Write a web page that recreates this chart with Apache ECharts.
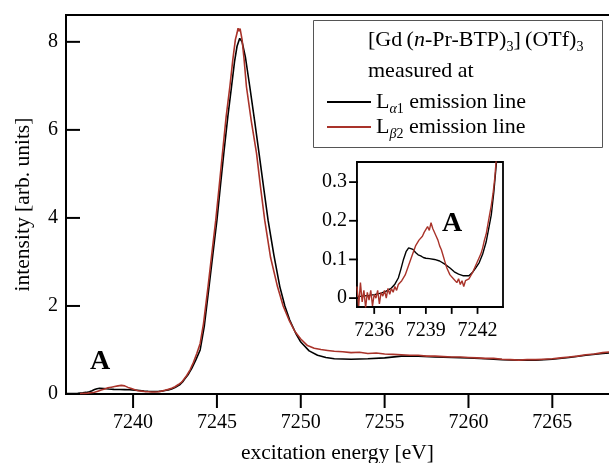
<!DOCTYPE html>
<html>
<head>
<meta charset="utf-8">
<script src="https://cdn.jsdelivr.net/npm/echarts@6/dist/echarts.min.js"></script>
<style>
html, body { margin: 0; padding: 0; background: #fff; }
#chart { width: 609px; height: 463px; }
</style>
</head>
<body>
<div id="chart"></div>
<script>
const blackEnergy = [7235.0, 7235.3, 7235.7, 7236.0, 7236.4, 7236.7, 7237.0, 7237.2, 7237.4, 7237.55,
	7237.7, 7237.85, 7238.0, 7238.1, 7238.25, 7238.4, 7238.55, 7238.7, 7238.85, 7239.0,
	7239.2, 7239.5, 7239.8, 7240.1, 7240.4, 7240.65, 7240.9, 7241.15, 7241.5, 7241.7,
	7241.9, 7242.1, 7242.3, 7242.5, 7242.65, 7242.8, 7242.95, 7243.1, 7243.3, 7243.5,
	7243.75, 7244.0, 7244.25, 7244.53, 7244.75, 7245.0, 7245.2, 7245.41, 7245.65, 7245.87,
	7246.05, 7246.2, 7246.36, 7246.5, 7246.7, 7246.96, 7247.25, 7247.51, 7247.8, 7248.05,
	7248.4, 7248.75, 7249.05, 7249.34, 7249.7, 7250.0, 7250.5, 7251.0, 7251.5, 7252.0,
	7253.0, 7254.0, 7255.0, 7256.0, 7257.0, 7258.0, 7259.0, 7260.0, 7261.0, 7262.0,
	7263.0, 7264.0, 7265.0, 7266.0, 7267.0, 7268.0, 7268.6]
const blackIntensity = [0.004, 0.005, 0.007, 0.009, 0.013, 0.018, 0.026, 0.036, 0.052, 0.075,
	0.1, 0.12, 0.13, 0.132, 0.126, 0.118, 0.112, 0.109, 0.105, 0.103,
	0.102, 0.1, 0.096, 0.088, 0.078, 0.068, 0.062, 0.058, 0.058, 0.066,
	0.078, 0.092, 0.114, 0.145, 0.18, 0.215, 0.275, 0.35, 0.45, 0.58,
	0.78, 1.0, 1.55, 2.44, 3.15, 3.95, 4.7, 5.47, 6.3, 6.98,
	7.55, 7.9, 8.08, 8.0, 7.65, 6.98, 6.2, 5.47, 4.65, 3.95,
	3.15, 2.44, 2.0, 1.68, 1.38, 1.18, 0.98, 0.88, 0.83, 0.8,
	0.79, 0.8, 0.82, 0.86, 0.86, 0.84, 0.83, 0.82, 0.8, 0.78,
	0.77, 0.77, 0.79, 0.83, 0.88, 0.92, 0.94]

// L-beta2 curve (red), noisy pre-edge
const redEnergy = [7235.0, 7235.1, 7235.2, 7235.3, 7235.4, 7235.5, 7235.6, 7235.7, 7235.8, 7235.9,
	7236.0, 7236.1, 7236.2, 7236.3, 7236.4, 7236.5, 7236.6, 7236.7, 7236.8, 7236.9,
	7237.0, 7237.1, 7237.2, 7237.3, 7237.4, 7237.5, 7237.6, 7237.7, 7237.8, 7237.9,
	7238.0, 7238.1, 7238.2, 7238.3, 7238.4, 7238.5, 7238.6, 7238.7, 7238.8, 7238.9,
	7239.0, 7239.1, 7239.2, 7239.3, 7239.4, 7239.5, 7239.6, 7239.7, 7239.8, 7239.9,
	7240.0, 7240.1, 7240.2, 7240.3, 7240.4, 7240.5, 7240.6, 7240.7, 7240.8, 7240.9,
	7241.0, 7241.1, 7241.2, 7241.3, 7241.4, 7241.5, 7241.6, 7241.7, 7241.8, 7241.9,
	7242.0, 7242.1, 7242.2, 7242.3, 7242.4, 7242.5, 7242.6, 7242.7, 7242.8, 7242.9,
	7243.0, 7243.2, 7243.4, 7243.6, 7243.8, 7244.0, 7244.2, 7244.47, 7244.7, 7244.93,
	7245.13, 7245.33, 7245.55, 7245.77, 7245.95, 7246.1, 7246.2, 7246.26, 7246.32, 7246.38,
	7246.5, 7246.62, 7246.76, 7247.05, 7247.36, 7247.6, 7247.85, 7248.2, 7248.61, 7248.95,
	7249.3, 7249.65, 7250.0, 7250.4, 7250.8, 7251.2, 7251.6, 7252.0, 7252.5, 7253.0,
	7253.5, 7254.0, 7254.5, 7255.0, 7255.5, 7256.0, 7256.5, 7257.0, 7257.5, 7258.0,
	7258.5, 7259.0, 7259.5, 7260.0, 7260.5, 7261.0, 7261.5, 7262.0, 7262.5, 7263.0,
	7263.5, 7264.0, 7264.5, 7265.0, 7265.5, 7266.0, 7266.5, 7267.0, 7267.5, 7268.0, 7268.6]
const redIntensity = [0.03, -0.02, 0.04, -0.01, 0.02, -0.025, 0.015, -0.005, 0.02, -0.02,
	0.01, 0.0, 0.02, -0.015, 0.015, 0.005, 0.02, 0.0, 0.025, 0.01,
	0.025, 0.015, 0.03, 0.02, 0.035, 0.03, 0.045, 0.04, 0.06, 0.065,
	0.085, 0.09, 0.11, 0.115, 0.135, 0.14, 0.15, 0.155, 0.16, 0.17,
	0.165, 0.185, 0.175, 0.195, 0.18, 0.185, 0.16, 0.15, 0.135, 0.125,
	0.11, 0.095, 0.08, 0.075, 0.06, 0.065, 0.05, 0.055, 0.04, 0.05,
	0.035, 0.045, 0.03, 0.045, 0.04, 0.05, 0.05, 0.065, 0.07, 0.085,
	0.09, 0.105, 0.115, 0.13, 0.15, 0.165, 0.19, 0.215, 0.24, 0.27,
	0.31, 0.42, 0.55, 0.72, 0.92, 1.15, 1.6, 2.44, 3.2, 3.95,
	4.7, 5.47, 6.3, 6.98, 7.6, 8.05, 8.2, 8.31, 8.24, 8.3,
	8.05, 7.6, 6.98, 6.2, 5.47, 4.7, 3.95, 3.1, 2.44, 2.0,
	1.68, 1.42, 1.25, 1.1, 1.04, 1.01, 0.99, 0.97, 0.96, 0.94,
	0.95, 0.92, 0.93, 0.91, 0.9, 0.89, 0.88, 0.88, 0.86, 0.86,
	0.85, 0.84, 0.84, 0.83, 0.82, 0.81, 0.81, 0.79, 0.78, 0.77,
	0.78, 0.78, 0.79, 0.8, 0.82, 0.84, 0.86, 0.89, 0.91, 0.94, 0.96]

const seriesNames = ['La1', 'Lb2']
const mainXTicks = [7240, 7245, 7250, 7255, 7260, 7265]
const mainYTicks = [0, 2, 4, 6, 8]
const insetXTicks = [7236, 7237.5, 7239, 7240.5, 7242]
const insetXLabels = [7236, 7239, 7242]
const insetYTicks = [0, 0.1, 0.2, 0.3]
const mainXMin = 7236
const mainYMax = 8.61
const insetXMin = 7235
const insetYMin = -0.023

const serif = '"Liberation Serif", "DejaVu Serif", serif'
const red = '#a9332a'
const toPairs = (xs, ys) => xs.map((x, i) => [x, ys[i]])
const blackData = toPairs(blackEnergy, blackIntensity)
const redData = toPairs(redEnergy, redIntensity)

const chart = echarts.init(document.getElementById('chart'), null, { renderer: 'canvas' })

const axisText = { color: '#000', fontFamily: serif, fontSize: 20 }
const titleText = { color: '#000', fontFamily: serif, fontSize: 21.5 }
const plain = (v) => String(v)

// tick marks / spines placed through the axes: each datum is [x, y], drawn
// as a short segment offset by (dx, dy) pixels, or up to a second point
function tickSeries(xi, yi, points, dx, dy, width) {
	return {
		type: 'custom',
		xAxisIndex: xi,
		yAxisIndex: yi,
		z: 20,
		clip: false,
		silent: true,
		data: points,
		encode: { x: 0, y: 1 },
		renderItem: (params, api) => {
			const p = api.coord([api.value(0), api.value(1)])
			return {
				type: 'line',
				shape: { x1: p[0], y1: p[1], x2: p[0] + dx, y2: p[1] + dy },
				style: { stroke: '#000', lineWidth: width, lineCap: 'square' },
			}
		},
	}
}

let option = {
	animation: false,
	backgroundColor: '#fff',
	grid: [
		{ left: 66, right: 0, top: 15, bottom: 69, outerBoundsMode: 'none', show: false },
		{ left: 357, top: 162, width: 146, height: 145, outerBoundsMode: 'none', show: true, backgroundColor: '#fff', borderColor: '#000', borderWidth: 1.8, z: 5 },
	],
	xAxis: [
		{
			gridIndex: 0,
			type: 'value',
			min: mainXMin,
			max: 7268.38,
			name: 'excitation energy [eV]',
			nameLocation: 'middle',
			nameGap: 48,
			nameTextStyle: titleText,
			axisLine: { show: true, onZero: false, lineStyle: { color: '#000', width: 2 } },
			axisTick: { show: false },
			axisLabel: { customValues: mainXTicks, margin: 19, formatter: plain, ...axisText },
			splitLine: { show: false },
		},
		{
			gridIndex: 1,
			type: 'value',
			min: insetXMin,
			max: 7243.48,
			axisLine: { show: true, onZero: false, lineStyle: { color: '#000', width: 1.8 } },
			axisTick: { show: false },
			axisLabel: { customValues: insetXLabels, margin: 14, formatter: plain, ...axisText },
			splitLine: { show: false },
		},
		{
			// top frame line of the main plot
			gridIndex: 0,
			type: 'value',
			position: 'top',
			min: mainXMin,
			max: 7268.38,
			axisLine: { show: true, onZero: false, lineStyle: { color: '#000', width: 2 } },
			axisTick: { show: false },
			axisLabel: { show: false },
			splitLine: { show: false },
		},
	],
	yAxis: [
		{
			gridIndex: 0,
			type: 'value',
			min: 0,
			max: mainYMax,
			name: 'intensity [arb. units]',
			nameLocation: 'middle',
			nameGap: 32,
			nameTextStyle: titleText,
			axisLine: { show: true, onZero: false, lineStyle: { color: '#000', width: 2 } },
			axisTick: { show: false },
			axisLabel: { customValues: mainYTicks, margin: 8, formatter: plain, ...axisText },
			splitLine: { show: false },
		},
		{
			gridIndex: 1,
			type: 'value',
			min: insetYMin,
			max: 0.352,
			axisLine: { show: true, onZero: false, lineStyle: { color: '#000', width: 1.8 } },
			axisTick: { show: false },
			axisLabel: { customValues: insetYTicks, margin: 10, ...axisText, formatter: (v) => (v === 0 ? '0' : v.toFixed(1)) },
			splitLine: { show: false },
		},
	],
	legend: {
		data: seriesNames,
		orient: 'vertical',
		left: 322,
		top: 86,
		icon: 'rect',
		itemWidth: 44,
		itemHeight: 2,
		itemGap: 0,
		z: 10,
		formatter: (n) =>
			n === 'La1'
				? '{t|L}{si|α}{sn|1}{t| emission line}'
				: '{t|L}{si|β}{sn|2}{t| emission line}',
		textStyle: {
			rich: {
				t: { fontFamily: serif, fontSize: 22, color: '#000', lineHeight: 28 },
				si: { fontFamily: serif, fontSize: 14, fontStyle: 'italic', color: '#000', verticalAlign: 'bottom', lineHeight: 17 },
				sn: { fontFamily: serif, fontSize: 14, color: '#000', verticalAlign: 'bottom', lineHeight: 17 },
			},
		},
	},
	graphic: [
		{
			type: 'rect',
			z: 8,
			shape: { x: 313.5, y: 20.5, width: 289, height: 127 },
			style: { fill: '#fff', stroke: '#555', lineWidth: 1 },
		},
		{
			type: 'text',
			z: 9,
			left: 368,
			top: 29,
			style: {
				text: '{t|[Gd\u2009(}{i|n}{t|-Pr-BTP)}{s|3}{t|]\u2009(OTf)}{s|3}',
				rich: {
					t: { fontFamily: serif, fontSize: 22, fill: '#000', lineHeight: 28 },
					i: { fontFamily: serif, fontSize: 22, fontStyle: 'italic', fill: '#000', lineHeight: 28 },
					s: { fontFamily: serif, fontSize: 14, fill: '#000', verticalAlign: 'bottom', lineHeight: 17 },
				},
			},
		},
		{
			type: 'text',
			z: 9,
			left: 368,
			top: 60,
			style: { text: 'measured at', font: '22px ' + serif, fill: '#000' },
		},
		{
			type: 'text',
			z: 9,
			x: 100,
			y: 362,
			style: { text: 'A', font: 'bold 28px ' + serif, fill: '#000', align: 'center', verticalAlign: 'middle' },
		},
		{
			type: 'text',
			z: 20,
			x: 452,
			y: 224,
			style: { text: 'A', font: 'bold 28px ' + serif, fill: '#000', align: 'center', verticalAlign: 'middle' },
		},
	],
	series: [
		{
			name: 'La1',
			type: 'line',
			xAxisIndex: 0,
			yAxisIndex: 0,
			data: blackData,
			showSymbol: false,
			symbol: 'none',
			clip: true,
			lineStyle: { color: '#000', width: 1.6 },
			itemStyle: { color: '#000' },
		},
		{
			name: 'Lb2',
			type: 'line',
			xAxisIndex: 0,
			yAxisIndex: 0,
			data: redData,
			showSymbol: false,
			symbol: 'none',
			clip: true,
			lineStyle: { color: red, width: 1.6 },
			itemStyle: { color: red },
		},
		{
			name: 'La1',
			type: 'line',
			xAxisIndex: 1,
			yAxisIndex: 1,
			data: blackData,
			showSymbol: false,
			symbol: 'none',
			clip: true,
			z: 6,
			lineStyle: { color: '#000', width: 1.4 },
		},
		{
			name: 'Lb2',
			type: 'line',
			xAxisIndex: 1,
			yAxisIndex: 1,
			data: redData,
			showSymbol: false,
			symbol: 'none',
			clip: true,
			z: 6,
			lineStyle: { color: red, width: 1.4 },
		},
		// main: left spine, x ticks outward (down), y ticks inward (right)
		tickSeries(0, 0, [[mainXMin, 0]], 0, -379, 2),
		tickSeries(0, 0, mainXTicks.map((v) => [v, 0]), 0, 13, 2),
		tickSeries(0, 0, mainYTicks.map((v) => [mainXMin, v]), 13, 0, 2),
		// inset: both outward
		tickSeries(1, 1, insetXTicks.map((v) => [v, insetYMin]), 0, 6, 1.8),
		tickSeries(1, 1, insetYTicks.map((v) => [insetXMin, v]), -7, 0, 1.8),
	],
}

chart.setOption(option)
</script>
</body>
</html>
